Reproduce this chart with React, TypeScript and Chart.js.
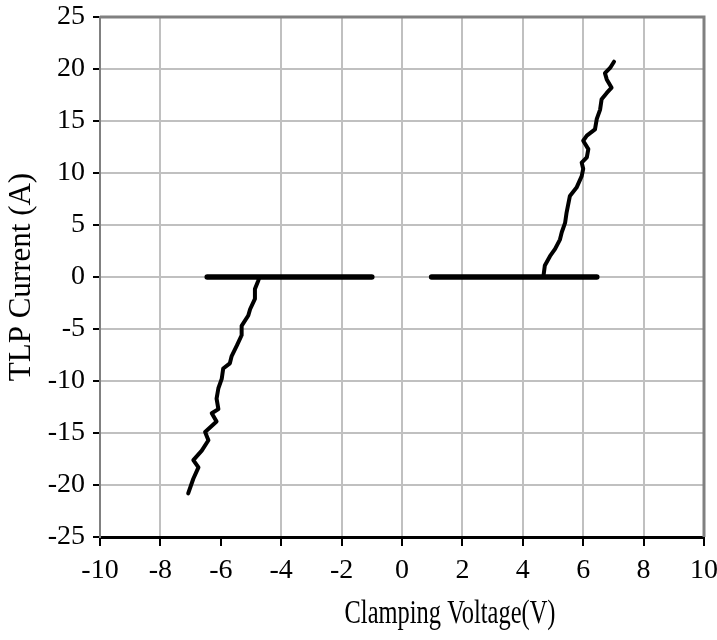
import React, { useEffect, useRef } from "react";
import { Chart, registerables } from "chart.js";

Chart.register(...registerables);

// ---- data ----
const negLevelV = [-6.45, -1.0];
const negLevelI = [0, 0];
const posLevelV = [0.98, 6.45];
const posLevelI = [0, 0];

const negCurveV = [-4.72, -4.76, -4.87, -4.87, -5.03, -5.09, -5.31, -5.31, -5.47, -5.64, -5.7, -5.92, -5.97, -6.08, -6.14, -6.08, -6.3, -6.14, -6.52, -6.41, -6.63, -6.91, -6.74, -6.91, -7.08];
const negCurveI = [0, -0.35, -1.15, -2.1, -3.1, -3.7, -4.7, -5.6, -6.6, -7.6, -8.3, -8.8, -9.8, -10.7, -11.7, -12.7, -13.1, -13.9, -14.9, -15.7, -16.7, -17.6, -18.3, -19.4, -20.8];

const posCurveV = [4.68, 4.73, 4.9, 5.07, 5.23, 5.29, 5.4, 5.45, 5.56, 5.78, 5.95, 6.0, 5.95, 6.12, 6.17, 6.0, 6.12, 6.39, 6.45, 6.56, 6.61, 6.78, 6.94, 6.78, 6.72, 6.89, 7.02];
const posCurveI = [0, 1.1, 2.0, 2.7, 3.6, 4.3, 5.2, 6.2, 7.8, 8.6, 9.7, 10.4, 11.0, 11.5, 12.3, 13.1, 13.6, 14.2, 15.2, 16.1, 17.1, 17.7, 18.2, 19.0, 19.6, 20.1, 20.7];

const xMin = -10, xMax = 10, xStep = 2;
const yMin = -25, yMax = 25, yStep = 5;
const xHiddenGrid = [-6];
const xTitle = "Clamping Voltage(V)";
const yTitle = "TLP Current (A)";

const zip = (xs: number[], ys: number[]) => xs.map((x, i) => ({ x, y: ys[i] }));

const frameBorder = {
  id: "frameBorder",
  beforeDatasetsDraw(chart: any) {
    const { ctx, chartArea } = chart;
    ctx.save();
    ctx.strokeStyle = "#808080";
    ctx.lineWidth = 3;
    ctx.beginPath();
    ctx.moveTo(chartArea.left, chartArea.top);
    ctx.lineTo(chartArea.right, chartArea.top);
    ctx.lineTo(chartArea.right, chartArea.bottom);
    ctx.stroke();
    ctx.restore();
  },
};

const xTitlePlugin = {
  id: "xTitlePlugin",
  afterDraw(chart: any) {
    const { ctx, chartArea } = chart;
    const cx = (chartArea.left + chartArea.right) / 2 + 48;
    const cy = chartArea.bottom + 77;
    ctx.save();
    ctx.translate(cx, cy);
    ctx.scale(0.72, 1);
    ctx.font = "34px 'Liberation Serif'";
    ctx.fillStyle = "#000";
    ctx.textAlign = "center";
    ctx.textBaseline = "middle";
    ctx.fillText(xTitle, 0, 0);
    ctx.restore();
  },
};

export default function App() {
  const ref = useRef<HTMLCanvasElement>(null);

  useEffect(() => {
    if (!ref.current) return;
    const lineBase = {
      showLine: true,
      pointRadius: 0,
      borderColor: "#000",
      backgroundColor: "#000",
      tension: 0,
      borderCapStyle: "round",
      borderJoinStyle: "round",
      fill: false,
    };
    const chart = new Chart(ref.current, {
      type: "scatter",
      data: {
        datasets: [
          { ...lineBase, label: "neg level", data: zip(negLevelV, negLevelI), borderWidth: 5.5 },
          { ...lineBase, label: "pos level", data: zip(posLevelV, posLevelI), borderWidth: 5.5 },
          { ...lineBase, label: "neg", data: zip(negCurveV, negCurveI), borderWidth: 4 },
          { ...lineBase, label: "pos", data: zip(posCurveV, posCurveI), borderWidth: 4 },
        ] as any,
      },
      options: {
        responsive: false,
        animation: false,
        layout: { padding: { top: 17, right: 13, left: 0, bottom: 0 } },
        plugins: { legend: { display: false }, tooltip: { enabled: false } },
        scales: {
          x: {
            type: "linear",
            min: xMin,
            max: xMax,
            afterFit: (s: any) => {
              s.height = 103;
              s.paddingLeft = 0;
              s.paddingRight = 0;
            },
            ticks: {
              stepSize: xStep,
              color: "#000",
              padding: 8,
              font: { family: "'Liberation Serif'", size: 28 },
              maxRotation: 0,
            },
            grid: {
              color: (c: any) => (c.tick && xHiddenGrid.includes(c.tick.value) ? "rgba(0,0,0,0)" : "#c0c0c0"),
              lineWidth: 2,
              tickColor: "#000",
              tickLength: 9,
              tickWidth: 2,
            },
            border: { color: "#000", width: 3 },
          },
          y: {
            type: "linear",
            min: yMin,
            max: yMax,
            afterFit: (s: any) => {
              s.width = 100;
              s.paddingTop = 0;
              s.paddingBottom = 0;
            },
            ticks: {
              stepSize: yStep,
              color: "#000",
              padding: 8,
              font: { family: "'Liberation Serif'", size: 28 },
            },
            grid: {
              color: "#c0c0c0",
              lineWidth: 2,
              tickColor: "#000",
              tickLength: 7,
              tickWidth: 2,
            },
            border: { color: "#808080", width: 2 },
            title: {
              display: true,
              text: yTitle,
              color: "#000",
              font: { family: "'Liberation Serif'", size: 31 },
              padding: { top: 3, bottom: 0 },
            },
          },
        },
      } as any,
      plugins: [frameBorder, xTitlePlugin],
    });
    return () => chart.destroy();
  }, []);

  return (
    <div style={{ position: "absolute", left: 0, top: 0, width: 717, height: 640, background: "#fff" }}>
      <canvas ref={ref} width={717} height={640} />
    </div>
  );
}
